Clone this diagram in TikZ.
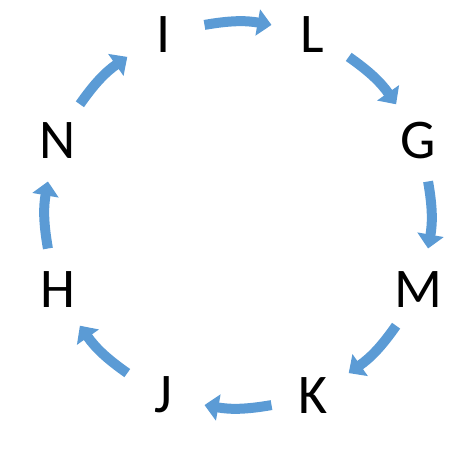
\documentclass[tikz,border=0pt]{standalone}
\usepackage{fontspec}
\setmainfont{Carlito}
\usepackage{tikz}
\usetikzlibrary{arrows.meta}
\definecolor{ringblue}{HTML}{5B9BD5}

\begin{document}
\begin{tikzpicture}[x=1pt,y=1pt,
  letter/.style={font=\fontsize{56}{60}\selectfont, inner sep=0pt},
  flow/.style={ringblue, line width=10pt, -{Triangle[width=26pt,length=14pt]}}]

% Fix the page size
\useasboundingbox (-238,-234) rectangle (223,215);

% Letters on the ring
\node[letter] (i) at (112.5:195) {I};
\node[letter] (l) at (67.5:195) {L};
\node[letter] (g) at (22.5:195) {G};
\node[letter] (m) at (-22.5:195) {M};
\node[letter] (k) at (-67.5:195) {K};
\node[letter] (j) at (-112.5:195) {J};
\node[letter] (h) at (-157.5:195) {H};
\node[letter] (n) at (157.5:195) {N};

% Ends of the arrows
\coordinate (il-s) at (100:193); \coordinate (il-e) at (80:193);
\coordinate (lg-s) at (55:193);  \coordinate (lg-e) at (35:193);
\coordinate (gm-s) at (10:193);  \coordinate (gm-e) at (-10:193);
\coordinate (mk-s) at (-35:193); \coordinate (mk-e) at (-55:193);
\coordinate (kj-s) at (-80:193); \coordinate (kj-e) at (-100:193);
\coordinate (jh-s) at (-125:193); \coordinate (jh-e) at (-145:193);
\coordinate (hn-s) at (-170:193); \coordinate (hn-e) at (170:193);
\coordinate (ni-s) at (145:193); \coordinate (ni-e) at (125:193);

% Clockwise arrows
\draw[flow] (il-s) to[bend left=10] (il-e);
\draw[flow] (lg-s) to[bend left=10] (lg-e);
\draw[flow] (gm-s) to[bend left=10] (gm-e);
\draw[flow] (mk-s) to[bend left=10] (mk-e);
\draw[flow] (kj-s) to[bend left=10] (kj-e);
\draw[flow] (jh-s) to[bend left=10] (jh-e);
\draw[flow] (hn-s) to[bend left=10] (hn-e);
\draw[flow] (ni-s) to[bend left=10] (ni-e);

\end{tikzpicture}
\end{document}
